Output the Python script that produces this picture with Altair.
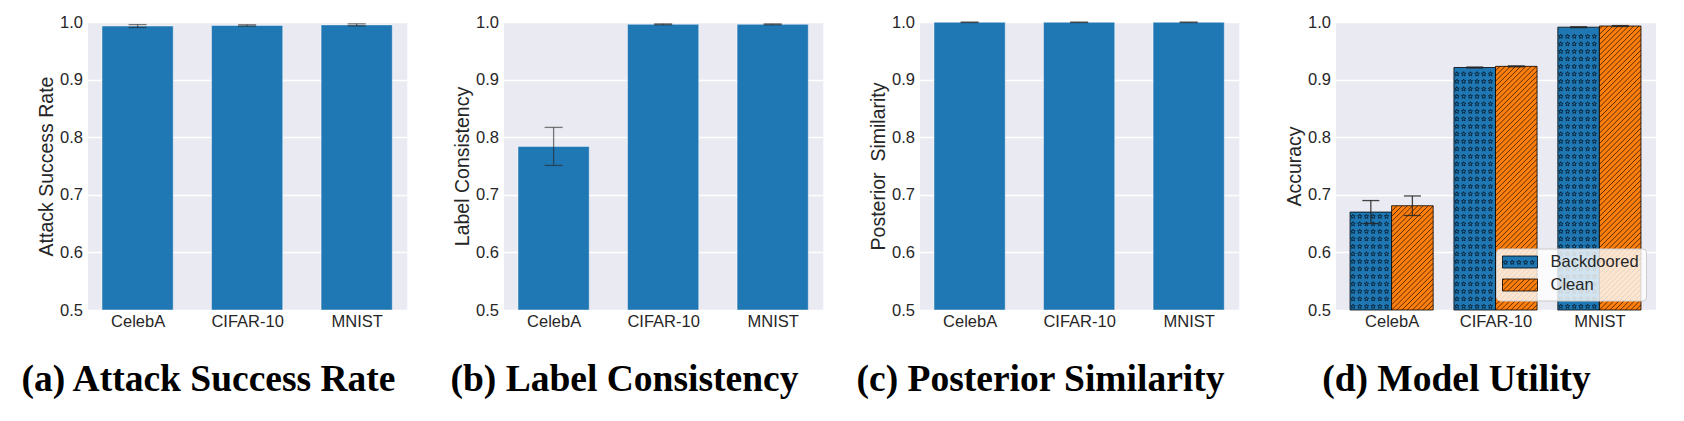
import json
import numpy as np
import pandas as pd
import altair as alt

# ---------------- data ----------------
datasets = ["CelebA", "CIFAR-10", "MNIST"]

asr_mean = [0.993, 0.994, 0.995]
asr_err = [0.0025, 0.0012, 0.0018]

lc_mean = [0.784, 0.996, 0.996]
lc_err = [0.033, 0.0008, 0.0008]

ps_mean = [0.9995, 0.9995, 0.9995]
ps_err = [0.0004, 0.0004, 0.0004]

series = ["Backdoored", "Clean"]
acc_backdoored = [0.670, 0.921, 0.991]
acc_backdoored_err = [0.020, 0.0008, 0.0008]
acc_clean = [0.681, 0.923, 0.993]
acc_clean_err = [0.017, 0.0008, 0.0008]

y_titles = ["Attack Success Rate", "Label Consistency", "Posterior\u00a0 Similarity", "Accuracy"]
captions = ["(a) Attack Success Rate", "(b) Label Consistency",
            "(c) Posterior Similarity", "(d) Model Utility"]
y_ticks = [0.5, 0.6, 0.7, 0.8, 0.9, 1.0]

# ---------------- style ----------------
BLUE = "#1f77b4"
ORANGE = "#ff7f0e"
TXT = "#262626"
SANS = "Liberation Sans"
SERIF = "Liberation Serif"
W = 319.3
H = 288
CAP_X = 121
CAP_Y = 369
HATCH_STEP = 5.2

label_expr = json.dumps(datasets) + "[datum.value]"
y_scale = alt.Scale(domain=[0.5, 1.0], nice=False, zero=False)


def x_axis():
    return alt.Axis(values=[0, 1, 2], labelExpr=label_expr, title=None, grid=False,
                    ticks=False, domain=False, labelPadding=3, labelAngle=0)


def y_axis(title):
    return alt.Axis(values=y_ticks, format=".1f", title=title, grid=True,
                    ticks=False, domain=False, labelPadding=5, titlePadding=3)


def caption_layer(text):
    return alt.Chart(pd.DataFrame({"cap": [text]})).mark_text(
        font=SERIF, fontWeight="bold", fontSize=37.5, color="black",
        align="center", baseline="alphabetic"
    ).encode(text="cap:N", x=alt.value(CAP_X), y=alt.value(CAP_Y))


def single_panel(means, errs, ytitle, caption):
    df = pd.DataFrame({"dataset": datasets, "idx": list(range(len(datasets))),
                       "value": means, "err": errs})
    xs = alt.Scale(domain=[-0.4575, 2.4575], nice=False, zero=False)
    base = alt.Chart(df).transform_calculate(
        x0="datum.idx - 0.325", x1="datum.idx + 0.325",
        lo="datum.value - datum.err", hi="datum.value + datum.err")
    xq = lambda f: alt.X(f, type="quantitative", scale=xs, axis=x_axis())
    yq = lambda f: alt.Y(f, type="quantitative", scale=y_scale, axis=y_axis(ytitle))
    bars = base.mark_bar(color=BLUE, stroke="white", strokeOpacity=0.45, strokeWidth=1).encode(
        x=xq("x0"), x2="x1:Q", y=yq("value"), y2=alt.datum(0.5))
    rule = base.mark_rule(color=TXT, opacity=0.6, strokeWidth=1.3).encode(
        x=xq("idx"), y=yq("lo"), y2="hi:Q")
    cap_lo = base.mark_tick(orient="horizontal", size=18, thickness=1.3, color=TXT, opacity=0.6).encode(
        x=xq("idx"), y=yq("lo"))
    cap_hi = base.mark_tick(orient="horizontal", size=18, thickness=1.3, color=TXT, opacity=0.6).encode(
        x=xq("idx"), y=yq("hi"))
    return alt.layer(bars, rule, cap_lo, cap_hi, caption_layer(caption)).properties(width=W, height=H)


# ---------------- panel (d) ----------------
X_DOM = [-0.54, 2.54]
PX_X = (W + 0.7) / (X_DOM[1] - X_DOM[0])
PX_Y = H / 0.5
HALF = 0.4

rows = []
for s, vals, errs, off in [(series[0], acc_backdoored, acc_backdoored_err, -HALF),
                           (series[1], acc_clean, acc_clean_err, 0.0)]:
    for i, (v, e) in enumerate(zip(vals, errs)):
        rows.append({"dataset": datasets[i], "series": s, "x0": i + off, "x1": i + off + HALF,
                     "xc": i + off + HALF / 2, "value": v, "lo": v - e, "hi": v + e})
dfd = pd.DataFrame(rows)

STAR = ("M0,-1L0.2645,-0.364L0.951,-0.309L0.428,0.139L0.588,0.809L0,0.45L-0.588,0.809"
        "L-0.428,0.139L-0.951,-0.309L-0.2645,-0.364Z")


def star_points(wpx, hpx):
    pts = []
    for u in np.arange(3.0, wpx - 2.5, 6.7):
        for w in np.arange(3.5, hpx - 2.5, 7.5):
            pts.append((u, w))
    return pts


def hatch_lines(wpx, hpx, step=HATCH_STEP):
    segs = []
    c = -hpx + (hpx % step)
    while c < wpx:
        u0 = max(0.0, c)
        w0 = u0 - c
        u1 = min(wpx, c + hpx)
        w1 = u1 - c
        if u1 - u0 > 0.6:
            segs.append((u0, w0, u1, w1))
        c += step
    return segs


stars = []
lines = []
for r in rows:
    wpx = HALF * PX_X
    hpx = (r["value"] - 0.5) * PX_Y
    if r["series"] == series[0]:
        for u, w in star_points(wpx, hpx):
            stars.append({"sx": r["x0"] + u / PX_X, "sy": 0.5 + w / PX_Y})
    else:
        for u0, w0, u1, w1 in hatch_lines(wpx, hpx):
            lines.append({"lx": r["x0"] + u0 / PX_X, "ly": 0.5 + w0 / PX_Y,
                          "lx2": r["x0"] + u1 / PX_X, "ly2": 0.5 + w1 / PX_Y})
df_stars = pd.DataFrame(stars)
df_lines = pd.DataFrame(lines)

xs4 = alt.Scale(domain=X_DOM, nice=False, zero=False)
xq4 = lambda f: alt.X(f, type="quantitative", scale=xs4, axis=x_axis())
yq4 = lambda f: alt.Y(f, type="quantitative", scale=y_scale, axis=y_axis(y_titles[3]))

bars4 = alt.Chart(dfd).mark_bar(stroke="black", strokeWidth=0.8).encode(
    x=xq4("x0"), x2="x1:Q", y=yq4("value"), y2=alt.datum(0.5),
    color=alt.Color("series:N", scale=alt.Scale(domain=series, range=[BLUE, ORANGE]), legend=None))
star_layer = alt.Chart(df_stars).mark_point(shape=STAR, size=22, filled=False, color="black",
                                            strokeWidth=0.6, opacity=1).encode(
    x=xq4("sx"), y=yq4("sy"))
hatch_layer = alt.Chart(df_lines).mark_rule(color="black", strokeWidth=0.65).encode(
    x=xq4("lx"), y=yq4("ly"), x2="lx2:Q", y2="ly2:Q")
rule4 = alt.Chart(dfd).mark_rule(color=TXT, opacity=0.85, strokeWidth=1.3).encode(
    x=xq4("xc"), y=yq4("lo"), y2="hi:Q")
caplo4 = alt.Chart(dfd).mark_tick(orient="horizontal", size=17, thickness=1.3, color=TXT, opacity=0.85).encode(
    x=xq4("xc"), y=yq4("lo"))
caphi4 = alt.Chart(dfd).mark_tick(orient="horizontal", size=17, thickness=1.3, color=TXT, opacity=0.85).encode(
    x=xq4("xc"), y=yq4("hi"))

# legend drawn in pixel space of panel (d)
LEG_BOX = (161, 227, 311, 279)
SW_X0, SW_W, SW_H = 167, 35, 12
SW_Y0 = [234, 257]
leg_box = alt.Chart(pd.DataFrame({"k": ["box"]})).mark_rect(
    fill="white", fillOpacity=0.8, stroke="#cccccc", strokeWidth=1, cornerRadius=4).encode(
    x=alt.value(LEG_BOX[0]), x2=alt.value(LEG_BOX[2]), y=alt.value(LEG_BOX[1]), y2=alt.value(LEG_BOX[3]))
df_leg = pd.DataFrame({"series": series,
                       "x": [SW_X0] * 2, "x2": [SW_X0 + SW_W] * 2,
                       "y": SW_Y0, "y2": [v + SW_H for v in SW_Y0],
                       "tx": [SW_X0 + SW_W + 13] * 2, "ty": [v + SW_H / 2 for v in SW_Y0]})
leg_sw = alt.Chart(df_leg).mark_rect(stroke="black", strokeWidth=0.8).encode(
    x=alt.X("x:Q", scale=None), x2="x2:Q", y=alt.Y("y:Q", scale=None), y2="y2:Q",
    fill=alt.Fill("series:N", scale=alt.Scale(domain=series, range=[BLUE, ORANGE]), legend=None))
leg_sw_stars = pd.DataFrame([{"px": SW_X0 + u, "py": SW_Y0[0] + SW_H - w - 2}
                             for u, w in star_points(SW_W, SW_H)])
leg_star_layer = alt.Chart(leg_sw_stars).mark_point(shape=STAR, size=22, filled=False, color="black",
                                                    strokeWidth=0.6, opacity=1).encode(
    x=alt.X("px:Q", scale=None), y=alt.Y("py:Q", scale=None))
leg_lines = pd.DataFrame([{"px": SW_X0 + u0, "py": SW_Y0[1] + SW_H - w0,
                           "px2": SW_X0 + u1, "py2": SW_Y0[1] + SW_H - w1}
                          for u0, w0, u1, w1 in hatch_lines(SW_W, SW_H)])
leg_line_layer = alt.Chart(leg_lines).mark_rule(color="black", strokeWidth=0.65).encode(
    x=alt.X("px:Q", scale=None), y=alt.Y("py:Q", scale=None), x2="px2:Q", y2="py2:Q")
leg_txt = alt.Chart(df_leg).mark_text(font=SANS, fontSize=16.5, color=TXT, align="left",
                                      baseline="middle").encode(
    x=alt.X("tx:Q", scale=None), y=alt.Y("ty:Q", scale=None), text="series:N")

panel4 = alt.layer(bars4, star_layer, hatch_layer, rule4, caplo4, caphi4,
                   leg_box, leg_sw, leg_star_layer, leg_line_layer, leg_txt,
                   caption_layer(captions[3])).resolve_scale(color="independent").properties(width=W + 0.7, height=H)

p1 = single_panel(asr_mean, asr_err, y_titles[0], captions[0])
p2 = single_panel(lc_mean, lc_err, y_titles[1], captions[1])
p3 = single_panel(ps_mean, ps_err, y_titles[2], captions[2])

chart = alt.hconcat(p1, p2, p3, panel4, spacing=96, bounds="flush").properties(
    padding={"left": 11.5, "top": 5, "right": 0, "bottom": 0}
).configure_view(fill="#EAEAF2", stroke="transparent").configure_axis(
    labelFont=SANS, labelFontSize=16.5, labelColor=TXT,
    titleFont=SANS, titleFontSize=19.5, titleColor=TXT, titleFontWeight="normal",
    gridColor="white", gridWidth=1.3, gridOpacity=1
)

chart.save("out.html", embed_options={"renderer": "svg", "actions": False})
